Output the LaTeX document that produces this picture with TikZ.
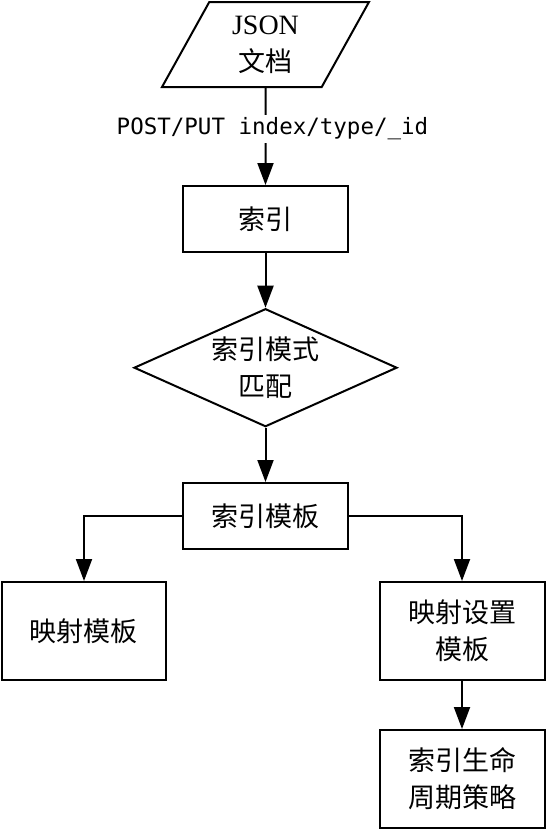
\documentclass[tikz,border=0pt]{standalone}
\usepackage{fontspec}
\newfontfamily\cjk{Noto Sans CJK SC}
\newfontfamily\serifjson{Liberation Serif}
\newfontfamily\monolbl{DejaVu Sans Mono}
\usetikzlibrary{arrows.meta,shapes.geometric}
\begin{document}
\begin{tikzpicture}[x=1pt,y=-1pt,
  txt/.style={font=\cjk\fontsize{27}{37}\selectfont, align=center},
  boxnode/.style={draw, line width=2pt, rectangle, txt, inner sep=0pt},
  arr/.style={draw, line width=2pt, -{Triangle[length=22pt,width=16pt]}},
  lbl/.style={fill=white, font=\monolbl\fontsize{22.5}{26}\selectfont, inner sep=3pt}
]
\useasboundingbox (0,0) rectangle (546,831);
\node[draw, line width=2pt, trapezium, trapezium left angle=64, trapezium right angle=116,
      trapezium stretches=true, minimum width=207pt, minimum height=85pt,
      inner sep=0pt, txt] (doc) at (265.5,44.5) {{\serifjson\fontsize{28}{37}\selectfont JSON}\\文档};
\node[boxnode, minimum width=165pt, minimum height=66pt] (idx) at (265.5,219) {索引};
\node[draw, line width=2pt, diamond, txt, inner sep=0pt, aspect=2.23, minimum width=263pt, minimum height=118pt] (match) at (265.5,367.7) {索引模式\\匹配};
\node[boxnode, minimum width=165pt, minimum height=66pt] (tmpl) at (265.5,516) {索引模板};
\node[boxnode, minimum width=164pt, minimum height=98pt] (map) at (84,631) {映射模板};
\node[boxnode, minimum width=165pt, minimum height=98pt] (set) at (462,631) {映射设置\\模板};
\node[boxnode, minimum width=165pt, minimum height=98pt] (ilm) at (462,779) {索引生命\\周期策略};

\draw[arr] (doc.south) -- node[lbl, pos=0.42, xshift=7pt] {POST/PUT index/type/\_id} (idx.north);
\draw[arr] (idx.south) -- (match.north);
\draw[arr] (match.south) -- (tmpl.north);
\draw[arr] (tmpl.west) -| (map.north);
\draw[arr] (tmpl.east) -| (set.north);
\draw[arr] (set.south) -- (ilm.north);
\end{tikzpicture}
\end{document}
